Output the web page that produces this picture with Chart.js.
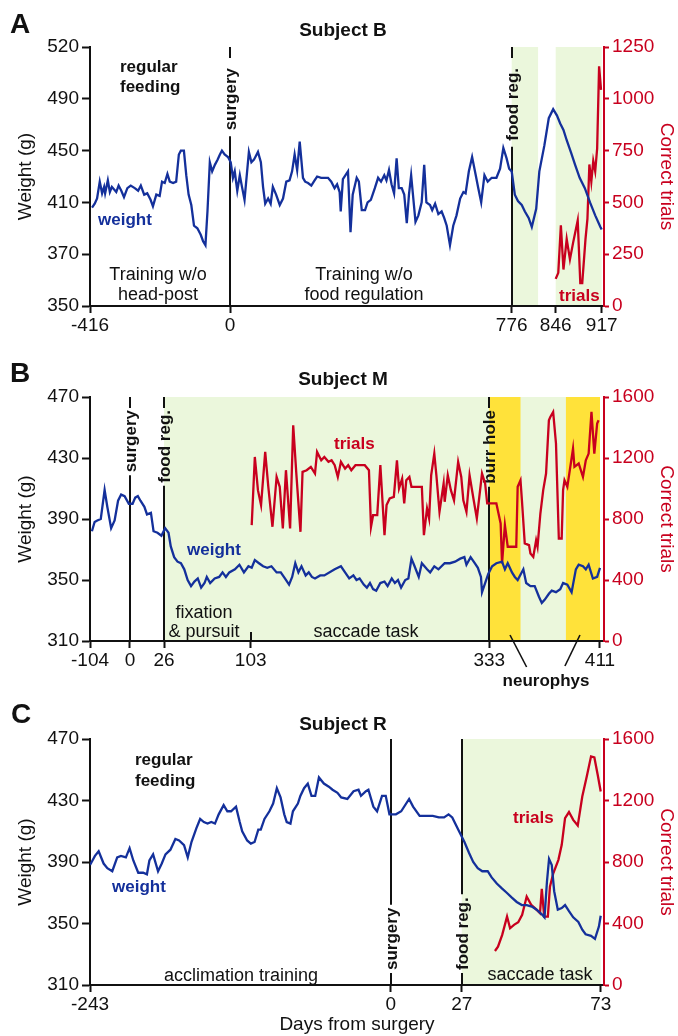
<!DOCTYPE html>
<html><head><meta charset="utf-8">
<script src="https://cdn.jsdelivr.net/npm/chart.js@4.4.1/dist/chart.umd.min.js"></script>
<style>
html,body{margin:0;padding:0;background:#fff;}
body{width:678px;height:1036px;position:relative;overflow:hidden;}
canvas{position:absolute;left:0;}
</style></head><body>
<canvas id="cA" width="678" height="340" style="top:0;width:678px;height:340px"></canvas>
<canvas id="cB" width="678" height="360" style="top:340px;width:678px;height:360px"></canvas>
<canvas id="cC" width="678" height="336" style="top:700px;width:678px;height:336px"></canvas>
<script>
// ================= DATA =================
// Panel A - Subject B
const aXTicks = [-416, 0, 776, 846, 917];
const aWeightTickLabels = ['350', '370', '410', '450', '490', '520'];
const aWeightDays = [-410,-402,-395,-387,-380,-374,-371,-363,-357,-351,-338,-331,-323,-315,-305,-295,-283,-273,-265,-255,-246,-236,-229,-219,-209,-202,-194,-186,-179,-169,-160,-152,-146,-137,-130,-123,-115,-107,-97,-87,-80,-73,-67,-60,-53,-45,-37,-30,-24,-16,-6,
  2,8,13,20,27,33,40,52,59,66,77,85,91,97,105,112,118,127,137,146,155,164,171,178,185,192,201,207,215,224,233,240,251,261,270,279,288,295,302,305,311,325,332,338,349,355,363,372,379,388,399,408,416,425,431,438,445,452,459,465,473,480,487,493,499,505,511,519,528,535,541,551,557,565,574,583,590,597,606,615,624,634,643,649,658,667,677,684,692,701,710,721,734,744,753,762,769,
  776,781,786,792,797,803,808,815,820,828,835,842,848,853,858,863,870,876,883,891,899,907,915,917];
const aWeight = [406,409,413,426,417,422,417,427,418,422,418,423,419,414,421,423,421,419,423,416,417,412,407,416,415,426,425,432,426,425,426,447,450,450,431,416,408,392,390,385,380,377,403,441,434,439,443,447,450,447,445,
  441,429,434,419,431,422,412,449,441,443,449,441,422,409,413,409,422,416,408,413,426,427,434,447,435,457,429,426,425,423,427,430,429,429,429,426,421,424,418,403,428,434,387,416,429,426,404,404,410,412,421,429,426,431,427,435,424,417,444,421,421,416,394,416,431,413,395,400,410,439,410,408,404,409,401,403,398,392,377,392,400,413,418,417,434,445,431,421,410,431,426,429,429,436,452,444,436,
  434,416,411,408,403,398,391,405,434,454,475,482,477,471,466,458,448,439,429,421,410,400,391,389];
const aTrialDays = [846,850,854,858,863,868,873,880,884,887,892,895,898,901,904,907,910,913,916];
const aTrials = [131,160,389,176,323,225,307,413,111,111,323,420,683,600,700,650,760,1157,1043];
const aFoodRegPeriods = [[776, 818], [846, 917]];

// Panel B - Subject M
const bXTicks = [-104, 0, 26, 103, 333, 411];
const bWeightDays = [-99,-92,-85,-76,-66,-59,-49,-40,-31,-23,-14,-3,2,4,6,8,11,13,16,18,21,24,27,30,32,35,38,41,44,47,50,53,56,59,62,64,67,71,75,78,81,84,89,93,97,101,104,107,111,115,119,123,128,132,136,140,143,146,149,152,156,159,162,165,170,174,184,190,194,198,202,205,208,212,215,218,221,224,228,232,235,239,242,245,248,252,255,258,261,265,268,273,276,280,284,287,290,295,300,305,309,311,315,319,322,325,326,329,332,335,338,342,344,346,349,351,353,357,359,362,365,368,370,372,375,377,380,383,385,388,391,394,396,399,401,403,406,409,411];
const bWeight = [382,388,389,390,409,398,384,389,402,406,405,400,400,404,405,402,398,393,394,382,381,379,384,381,372,365,362,361,357,350,346,349,351,345,348,352,348,351,352,355,352,355,357,360,355,359,358,363,361,359,358,359,355,355,351,347,352,361,355,359,353,355,352,351,353,353,357,359,355,351,353,350,351,347,345,348,344,343,348,349,346,351,348,350,345,350,351,364,359,352,361,357,355,359,357,359,361,361,362,364,365,360,365,361,358,352,342,348,354,359,361,362,357,361,355,352,350,357,348,346,346,339,335,337,341,343,342,344,348,347,342,357,360,359,357,360,351,352,358];
const bTrialDays = [104,107,110,113,117,120,124,128,131,134,137,141,144,147,151,153,157,161,165,167,171,174,178,181,184,187,190,194,197,200,204,208,213,217,219,221,225,228,232,234,237,241,244,246,249,251,253,256,258,263,268,270,273,275,277,280,282,285,289,290,293,296,299,303,306,308,311,314,318,321,326,329,331,335,338,341,342,344,346,349,352,353,355,356,358,361,362,364,366,367,369,371,373,375,376,378,380,382,384,385,386,388,392,393,396,399,401,403,405,407,409,410];
const bTrials = [760,1207,989,891,1240,1011,749,1076,1011,738,1120,738,1415,1098,716,1109,1120,1142,1098,1240,1185,1207,1175,1185,1153,1076,1175,1131,1153,1120,1153,1153,1153,1120,749,825,825,1153,694,891,935,945,1185,1000,1065,902,1054,1076,1011,1011,1011,694,869,804,1087,1229,1087,847,1033,913,1087,989,923,1174,1076,923,847,1087,923,804,1098,1033,902,902,902,771,509,760,618,618,618,1011,1054,923,640,629,574,552,661,618,836,989,1098,1447,1469,1502,1295,672,672,989,1054,1011,1262,1142,1164,1076,1185,1229,1502,1229,1426,1447];
const bFoodRegPeriod = [26, 411];
const bNeurophysPeriods = [[333, 355], [387, 411]];

// Panel C - Subject R
const cXTicks = [-243, 0, 27, 73];
const cWeightDays = [-243,-239,-236,-232,-229,-225,-221,-218,-214,-211,-208,-204,-200,-197,-195,-192,-188,-185,-182,-178,-174,-171,-167,-164,-161,-157,-154,-151,-148,-145,-142,-139,-135,-132,-129,-125,-122,-120,-116,-113,-110,-107,-105,-102,-98,-95,-92,-89,-86,-84,-81,-79,-75,-73,-70,-67,-64,-61,-58,-54,-50,-47,-43,-40,-35,-30,-26,-24,-20,-18,-14,-11,-7,-4,-1,
  2,4,7,8.5,11,13,14.4,16,18.3,20.3,22,23.4,25.7,27.9,29.4,30.8,32.3,33.8,35.6,36.9,38.6,40.2,41.9,43.5,45.2,46.9,48.5,50.2,51.8,53.5,54.4,55.2,55.9,56.8,57.6,58.8,60.1,61.2,62.5,63.9,65.6,66.9,68,69.8,71.1,72.4,73];
const cWeight = [388,394,397,389,386,384,393,394,393,399,391,383,383,382,391,395,384,389,395,398,405,404,401,393,403,412,418,416,415,416,415,421,427,423,423,426,416,410,404,402,403,411,411,418,423,428,438,432,421,416,415,423,428,433,438,441,433,433,445,441,439,437,435,432,431,436,437,433,436,437,426,423,433,433,421,
  421,423,431,426,420,420,420,420,419,419,421,419,411,403,396,390,386,384,384,380,376,373,370,367,364,362,362,361,359,356,354,377,392,388,371,359,360,362,358,354,351,346,343,342,340,348,355];
const cTrialDays = [38,39,40.4,42,43,44.3,45.7,47,48.5,50,51.5,52.9,53.5,54.3,55.5,56.2,57.3,59,60.1,61.2,62.5,63.9,65.4,66.9,68.4,69.8,70.9,72,73];
const cTrials = [221,249,326,445,369,391,408,456,575,521,495,467,625,445,445,640,727,814,912,1085,1125,1074,1037,1226,1357,1487,1480,1367,1259];
const cFoodRegPeriod = [27, 73];

// ================= STYLE =================
const FONT = '"Liberation Sans", Arial, Helvetica, sans-serif';
const INK = '#111';
const BLUE = '#14309b';
const RED = '#c8001e';
const GREEN = '#ebf7dc';
const YELLOW = '#ffe23a';

// Piecewise (broken) day axis built on Chart.js LinearScale
const BREAKS = {};
class BrokenAxis extends Chart.LinearScale {
  _br() { return BREAKS[this.chart.canvas.id]; }
  getPixelForValue(value) {
    if (value === null || value === undefined || !isFinite(value)) return NaN;
    const b = this._br(); const v = b.v, f = b.f;
    let i = 0;
    while (i < v.length - 2 && value > v[i + 1]) i++;
    const dec = f[i] + (value - v[i]) / (v[i + 1] - v[i]) * (f[i + 1] - f[i]);
    return this.getPixelForDecimal(dec);
  }
  getValueForPixel(pixel) {
    const d = this.getDecimalForPixel(pixel);
    const b = this._br(); const v = b.v, f = b.f;
    let i = 0;
    while (i < f.length - 2 && d > f[i + 1]) i++;
    return v[i] + (d - f[i]) / (f[i + 1] - f[i]) * (v[i + 1] - v[i]);
  }
}
BrokenAxis.id = 'broken';
BrokenAxis.defaults = Chart.LinearScale.defaults;
Chart.register(BrokenAxis);

// axis position of each tick label, as a fraction of the plot width
BREAKS.cA = {v: aXTicks, f: [0, 0.2724, 0.8204, 0.9060, 0.9955]};
BREAKS.cB = {v: bXTicks, f: [0, 0.0778, 0.1440, 0.3126, 0.7768, 0.9922]};
BREAKS.cC = {v: cXTicks, f: [0, 0.585, 0.7232, 0.9936]};

const ANNOT = {};

function line(ctx, x1, y1, x2, y2) { ctx.beginPath(); ctx.moveTo(x1, y1); ctx.lineTo(x2, y2); ctx.stroke(); }
function drawText(ctx, t) {
  ctx.save();
  ctx.font = (t.bold ? 'bold ' : '') + t.size + 'px ' + FONT;
  ctx.fillStyle = t.color || INK;
  ctx.textAlign = t.align || 'left';
  ctx.textBaseline = 'middle';
  ctx.fillText(t.text, t.x, t.y);
  ctx.restore();
}

const annotPlugin = {
  id: 'annot',
  beforeDatasetsDraw(chart) {
    const cfg = ANNOT[chart.canvas.id]; if (!cfg) return;
    const {ctx, chartArea: ca, scales} = chart;
    ctx.save();
    cfg.bands.forEach(b => {
      const x1 = scales.x.getPixelForValue(b.from), x2 = scales.x.getPixelForValue(b.to);
      ctx.fillStyle = b.color;
      ctx.fillRect(x1, ca.top, x2 - x1, ca.bottom - ca.top - 1);
    });
    ctx.strokeStyle = INK; ctx.lineWidth = 2;
    ctx.font = 'bold 17px ' + FONT;
    const s = cfg.vstyle;
    cfg.vlines.forEach(v => {
      const x = Math.round(scales.x.getPixelForValue(v.x));
      const w = ctx.measureText(v.label).width;
      let tb;
      if (v.pos === 'top') {
        line(ctx, x, ca.top, x, ca.top + s.seg);
        const t0 = ca.top + s.seg + s.gapA;
        tb = t0 + w;
        line(ctx, x, tb + s.gapB, x, ca.bottom);
      } else {
        line(ctx, x, ca.bottom, x, ca.bottom - s.seg);
        tb = ca.bottom - s.seg - s.gapA;
        line(ctx, x, tb - w - s.gapB, x, ca.top);
      }
      ctx.save();
      ctx.translate(x, tb); ctx.rotate(-Math.PI / 2);
      ctx.fillStyle = INK; ctx.textAlign = 'left'; ctx.textBaseline = 'middle';
      ctx.fillText(v.label, 0, 1);
      ctx.restore();
    });
    ctx.restore();
  },
  afterDraw(chart) {
    const cfg = ANNOT[chart.canvas.id]; if (!cfg) return;
    const {ctx} = chart;
    cfg.texts.forEach(t => drawText(ctx, t));
    if (cfg.extra) cfg.extra(chart);
  }
};
Chart.register(annotPlugin);

function pts(days, vals) { return days.map((d, i) => ({x: d, y: vals[i]})); }

function makeChart(id, o) {
  const tickFont = {family: FONT, size: 19};
  return new Chart(document.getElementById(id), {
    type: 'line',
    data: {datasets: [
      {label: 'weight', data: pts(o.wDays, o.w), yAxisID: 'y', borderColor: BLUE, borderWidth: 2.3, pointRadius: 0, tension: 0, fill: false},
      {label: 'trials', data: pts(o.tDays, o.t), yAxisID: 'y2', borderColor: RED, borderWidth: 2.3, pointRadius: 0, tension: 0, fill: false}
    ]},
    options: {
      responsive: false, maintainAspectRatio: false, animation: false, devicePixelRatio: 1, events: [],
      layout: {padding: {top: o.padTop, left: 0, right: 0, bottom: 0}},
      plugins: {legend: {display: false}, tooltip: {enabled: false}, title: {display: false}},
      scales: {
        x: {
          type: 'broken', min: o.xTicks[0], max: o.xTicks[o.xTicks.length - 1],
          afterBuildTicks: s => { s.ticks = o.xTicks.map(v => ({value: v})); },
          afterFit: s => { s.height = o.xh; },
          ticks: {autoSkip: false, maxRotation: 0, minRotation: 0, font: tickFont, color: INK, padding: 1, callback: v => String(v)},
          grid: {drawOnChartArea: false, drawTicks: true, tickLength: 7, tickWidth: 2, tickColor: INK},
          border: {color: INK, width: 2}
        },
        y: {
          position: 'left', min: o.yMin, max: o.yMax,
          afterFit: s => { s.width = 90; },
          ticks: {stepSize: 40, font: tickFont, color: INK, padding: 3, callback: o.yLabels ? ((v, i) => o.yLabels[i]) : (v => String(v))},
          grid: {drawOnChartArea: false, drawTicks: true, tickLength: 8, tickWidth: 2, tickColor: INK},
          border: {color: INK, width: 2},
          title: {display: true, text: 'Weight (g)', color: INK, font: {family: FONT, size: 19}, padding: {top: 14, bottom: 0}}
        },
        y2: {
          position: 'right', min: 0, max: o.tMax,
          afterFit: s => { s.width = 74; },
          ticks: {stepSize: o.tStep, font: tickFont, color: RED, padding: 3, callback: v => String(v)},
          grid: {drawOnChartArea: false, drawTicks: true, tickLength: 5, tickWidth: 2, tickColor: RED},
          border: {color: RED, width: 2},
          title: {display: true, text: 'Correct trials', color: RED, font: {family: FONT, size: 19}, padding: {top: 0, bottom: 0}}
        }
      }
    }
  });
}

// ---------- Panel A ----------
ANNOT.cA = {
  bands: aFoodRegPeriods.map(p => ({from: p[0], to: p[1], color: GREEN})),
  vstyle: {seg: 11, gapA: 10, gapB: 6},
  vlines: [{x: 0, label: 'surgery', pos: 'top'}, {x: 776, label: 'food reg.', pos: 'top'}],
  texts: [
    {text: 'A', x: 10, y: 25, size: 28, bold: true},
    {text: 'Subject B', x: 343, y: 31, size: 19, bold: true, align: 'center'},
    {text: 'regular', x: 120, y: 67, size: 17, bold: true},
    {text: 'feeding', x: 120, y: 87, size: 17, bold: true},
    {text: 'weight', x: 98, y: 220, size: 17, bold: true, color: BLUE},
    {text: 'Training w/o', x: 158, y: 275, size: 18, align: 'center'},
    {text: 'head-post', x: 158, y: 295, size: 18, align: 'center'},
    {text: 'Training w/o', x: 364, y: 275, size: 18, align: 'center'},
    {text: 'food regulation', x: 364, y: 295, size: 18, align: 'center'},
    {text: 'trials', x: 559, y: 296, size: 17, bold: true, color: RED}
  ]
};
makeChart('cA', {wDays: aWeightDays, w: aWeight, tDays: aTrialDays, t: aTrials, xTicks: aXTicks,
  padTop: 47, xh: 34, yMin: 330, yMax: 530, yLabels: aWeightTickLabels, tMax: 1250, tStep: 250});

// ---------- Panel B ----------
ANNOT.cB = {
  bands: [{from: bFoodRegPeriod[0], to: bFoodRegPeriod[1], color: GREEN}]
    .concat(bNeurophysPeriods.map(p => ({from: p[0], to: p[1], color: YELLOW}))),
  vstyle: {seg: 11, gapA: 2, gapB: 3},
  vlines: [{x: 0, label: 'surgery', pos: 'top'}, {x: 26, label: 'food reg.', pos: 'top'}, {x: 333, label: 'burr hole', pos: 'top'}],
  texts: [
    {text: 'B', x: 10, y: 34, size: 28, bold: true},
    {text: 'Subject M', x: 343, y: 40, size: 19, bold: true, align: 'center'},
    {text: 'weight', x: 187, y: 210, size: 17, bold: true, color: BLUE},
    {text: 'trials', x: 334, y: 104, size: 17, bold: true, color: RED},
    {text: 'fixation', x: 204, y: 273, size: 18, align: 'center'},
    {text: '& pursuit', x: 204, y: 292, size: 18, align: 'center'},
    {text: 'saccade task', x: 366, y: 292, size: 18, align: 'center'},
    {text: 'neurophys', x: 546, y: 341, size: 17, bold: true, align: 'center'}
  ],
  extra(chart) {
    const {ctx, chartArea: ca, scales} = chart;
    const X = v => scales.x.getPixelForValue(v);
    ctx.save();
    ctx.strokeStyle = INK; ctx.lineWidth = 2;
    line(ctx, Math.round(X(103)), ca.bottom - 9, Math.round(X(103)), ca.bottom);
    ctx.lineWidth = 1.6;
    line(ctx, X(347.6), ca.bottom - 6, X(359.3), ca.bottom + 26);
    line(ctx, X(396.9), ca.bottom - 6, X(386.3), ca.bottom + 25);
    ctx.restore();
  }
};
makeChart('cB', {wDays: bWeightDays, w: bWeight, tDays: bTrialDays, t: bTrials, xTicks: bXTicks,
  padTop: 57, xh: 59, yMin: 310, yMax: 470, tMax: 1600, tStep: 400});

// ---------- Panel C ----------
ANNOT.cC = {
  bands: [{from: cFoodRegPeriod[0], to: cFoodRegPeriod[1], color: GREEN}],
  vstyle: {seg: 12, gapA: 3, gapB: 3},
  vlines: [{x: 0, label: 'surgery', pos: 'bottom'}, {x: 27, label: 'food reg.', pos: 'bottom'}],
  texts: [
    {text: 'C', x: 11, y: 15, size: 28, bold: true},
    {text: 'Subject R', x: 343, y: 25, size: 19, bold: true, align: 'center'},
    {text: 'regular', x: 135, y: 60, size: 17, bold: true},
    {text: 'feeding', x: 135, y: 81, size: 17, bold: true},
    {text: 'weight', x: 112, y: 187, size: 17, bold: true, color: BLUE},
    {text: 'trials', x: 513, y: 118, size: 17, bold: true, color: RED},
    {text: 'acclimation training', x: 241, y: 276, size: 18, align: 'center'},
    {text: 'saccade task', x: 540, y: 275, size: 18, align: 'center'},
    {text: 'Days from surgery', x: 357, y: 325, size: 19, align: 'center'}
  ]
};
makeChart('cC', {wDays: cWeightDays, w: cWeight, tDays: cTrialDays, t: cTrials, xTicks: cXTicks,
  padTop: 39, xh: 51, yMin: 310, yMax: 470, tMax: 1600, tStep: 400});
</script>
</body></html>
